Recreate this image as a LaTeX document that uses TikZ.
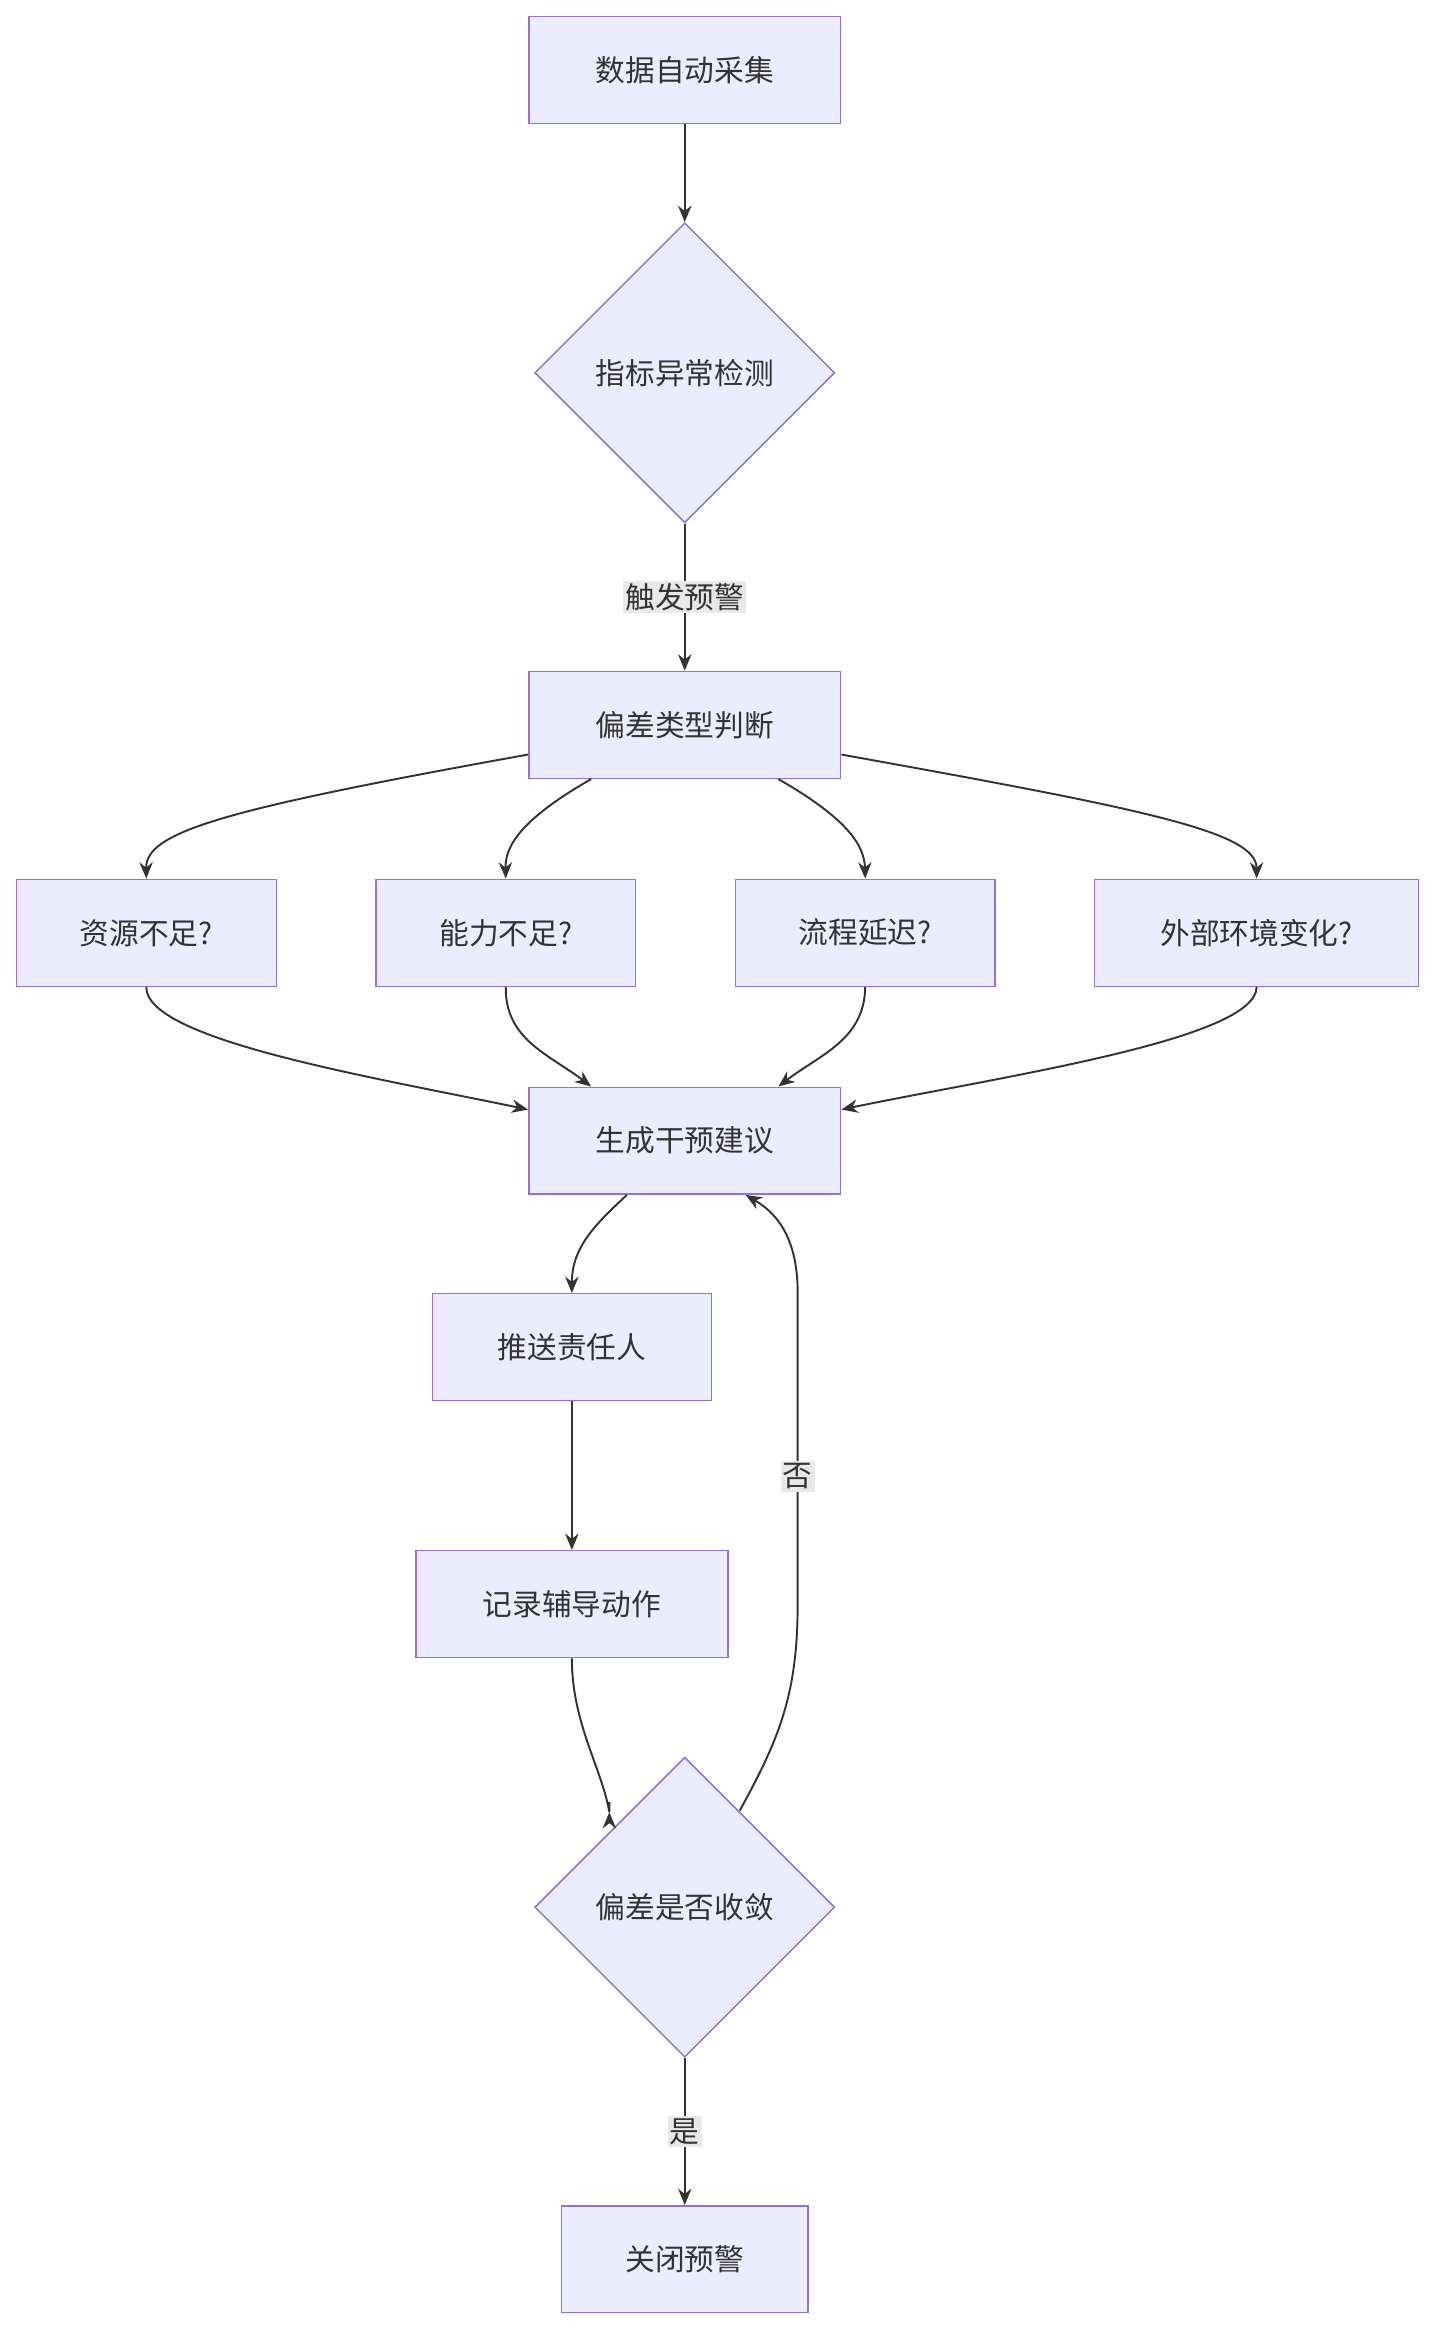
\documentclass[tikz,border=0pt]{standalone}
\usepackage{fontspec}
\setmainfont{Noto Sans CJK SC}
\usetikzlibrary{calc,shapes.geometric,arrows.meta}
\definecolor{nfill}{HTML}{ECECFF}
\definecolor{nline}{HTML}{9370DB}
\definecolor{txt}{HTML}{333333}
\definecolor{lbg}{HTML}{E8E8E8}
\begin{document}
\begin{tikzpicture}[x=1pt,y=-1pt,
 box/.style={draw=nline,fill=nfill,line width=1pt,minimum height=72pt,text=txt,font=\fontsize{20}{24}\selectfont,inner sep=0pt},
 dia/.style={draw=nline,fill=nfill,line width=1pt,diamond,minimum width=202pt,minimum height=202pt,aspect=1,text=txt,font=\fontsize{20}{24}\selectfont,inner sep=0pt},
 lab/.style={fill=lbg,text=txt,font=\fontsize{20}{24}\selectfont,inner sep=1.5pt},
 ar/.style={draw=txt,line width=1.3pt,-{Stealth[length=11pt,width=9pt]}}]
\useasboundingbox (0,0) rectangle (966,1570);
\node[box,minimum width=210pt] (A) at (461,47) {数据自动采集};
\node[dia] (B) at (461,251) {指标异常检测};
\node[box,minimum width=210pt] (C) at (461,488) {偏差类型判断};
\node[box,minimum width=175pt] (D1) at (98.5,628) {资源不足?};
\node[box,minimum width=175pt] (D2) at (340.5,628) {能力不足?};
\node[box,minimum width=175pt] (D3) at (582.5,628) {流程延迟?};
\node[box,minimum width=218pt] (D4) at (846,628) {外部环境变化?};
\node[box,minimum width=210pt] (E) at (461,768) {生成干预建议};
\node[box,minimum width=188pt] (F) at (385,907) {推送责任人};
\node[box,minimum width=210pt] (G) at (385,1080) {记录辅导动作};
\node[dia] (H) at (461,1284) {偏差是否收敛};
\node[box,minimum width=166pt] (I) at (461,1521) {关闭预警};
\draw[ar] (A) -- (B);
\draw[ar] (B) -- node[lab] (l1) {触发预警} (C);
\draw[ar] ($(C.west)+(0,20)$) .. controls (150,545) and (98,560) .. (D1.north);
\draw[ar] ($(C.south)+(-63,0)$) .. controls (350,552) and (340,570) .. (D2.north);
\draw[ar] ($(C.south)+(63,0)$) .. controls (572,552) and (582,570) .. (D3.north);
\draw[ar] ($(C.east)+(0,20)$) .. controls (772,545) and (846,560) .. (D4.north);
\draw[ar] (D1.south) .. controls (98,700) and (250,725) .. ($(E.west)+(0,-21)$);
\draw[ar] (D2.south) .. controls (340,700) and (370,710) .. ($(E.north)+(-63,0)$);
\draw[ar] (D3.south) .. controls (582,700) and (552,710) .. ($(E.north)+(63,0)$);
\draw[ar] (D4.south) .. controls (846,700) and (672,725) .. ($(E.east)+(0,-21)$);
\draw[ar] ($(E.south)+(-39,0)$) .. controls (400,825) and (385,840) .. (F.north);
\draw[ar] (F) -- (G);
\draw[ar] (G.south) .. controls (385,1160) and (405,1190) .. (H.north west|-0,1220) -- ++(0,0) coordinate (hin);
\coordinate (hout) at (498,1219);
\draw[ar] (hout) .. controls (525,1170) and (537,1140) .. (537,1080) -- (537,870) .. controls (537,830) and (520,815) .. ($(E.south)+(41,0)$);
\node[lab] (l2) at (537,994) {否};
\draw[ar] (H) -- node[lab] (l3) {是} (I);
\end{tikzpicture}
\end{document}
